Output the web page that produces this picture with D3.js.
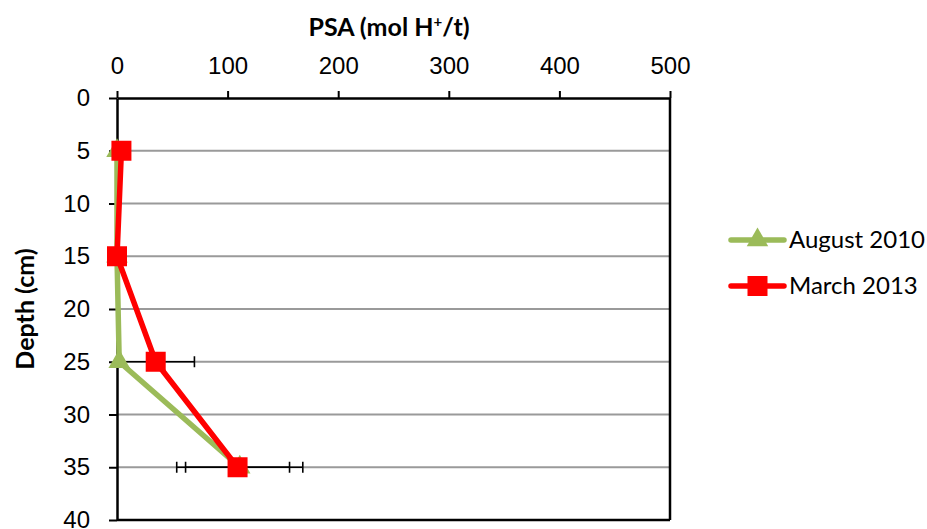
<!DOCTYPE html>
<html>
<head>
<meta charset="utf-8">
<script src="https://cdn.jsdelivr.net/npm/d3@7"></script>
<style>
  html, body { margin: 0; padding: 0; background: #fff; }
  svg { display: block; font-family: Lato, "Open Sans", sans-serif; }
</style>
</head>
<body>
<svg id="chart" width="927" height="529"></svg>
<script>
// Depth profile of PSA for two sampling dates
const depths = [5, 15, 25, 35];
const aug2010 = [0, 0, 2, 111];
const aug2010Err = [0, 0, 0, 57];
const mar2013 = [4, 0, 35, 109];
const mar2013Err = [0, 0, 35, 47];
const xTicks = [0, 100, 200, 300, 400, 500];
const yTicks = [0, 5, 10, 15, 20, 25, 30, 35, 40];
const seriesNames = ["August 2010", "March 2013"];

const series = [
  { name: seriesNames[0], values: aug2010, err: aug2010Err, color: "#9bbb59", shape: "triangle" },
  { name: seriesNames[1], values: mar2013, err: mar2013Err, color: "#ff0000", shape: "square" }
];

const svg = d3.select("#chart");
const plotL = 117, plotR = 670, plotT = 98, plotB = 520;

const x = d3.scaleLinear().domain([0, 500]).range([plotL, plotR]);
const y = d3.scaleLinear().domain([0, 40]).range([plotT, plotB]);

// horizontal gridlines
svg.append("g").selectAll("line")
  .data(yTicks.filter(d => d > 0 && d < 40))
  .join("line")
  .attr("x1", plotL).attr("x2", plotR)
  .attr("y1", d => y(d)).attr("y2", d => y(d))
  .attr("stroke", "#9a9a9a").attr("stroke-width", 2);

// plot border (right and bottom)
svg.append("line").attr("x1", plotR).attr("x2", plotR).attr("y1", plotT).attr("y2", plotB)
  .attr("stroke", "#000").attr("stroke-width", 2.5);
svg.append("line").attr("x1", plotL).attr("x2", plotR).attr("y1", plotB).attr("y2", plotB)
  .attr("stroke", "#000").attr("stroke-width", 2.5);

// top axis
const xAxis = svg.append("g").attr("transform", `translate(0,${plotT})`)
  .call(d3.axisTop(x).tickValues(xTicks).tickSizeInner(7).tickSizeOuter(0).tickPadding(17));
xAxis.select(".domain").attr("stroke-width", 2.5);
xAxis.selectAll(".tick line").attr("stroke-width", 2);
xAxis.selectAll("text").attr("font-size", 24).attr("fill", "#000");

// left axis
const yAxis = svg.append("g").attr("transform", `translate(${plotL},0)`)
  .call(d3.axisLeft(y).tickValues(yTicks).tickSizeInner(8).tickSizeOuter(0).tickPadding(19));
yAxis.select(".domain").attr("stroke-width", 2.5);
yAxis.selectAll(".tick line").attr("stroke-width", 2);
yAxis.selectAll("text").attr("font-size", 24).attr("fill", "#000");

// axis titles
const title = svg.append("text").attr("x", 389).attr("y", 36)
  .attr("text-anchor", "middle").attr("font-size", 25).attr("font-weight", "bold");
title.append("tspan").text("PSA (mol H");
title.append("tspan").text("+").attr("font-size", 15).attr("dy", -9);
title.append("tspan").text("/t)").attr("dy", 9);

svg.append("text")
  .attr("transform", "translate(34,309) rotate(-90)")
  .attr("text-anchor", "middle").attr("font-size", 25).attr("font-weight", "bold")
  .text("Depth (cm)");

// error bars
const capH = 11;
series.forEach(s => {
  const g = svg.append("g").attr("stroke", "#000").attr("stroke-width", 1.6);
  depths.forEach((d, i) => {
    if (!s.err[i]) return;
    const lo = x(s.values[i] - s.err[i]), hi = x(s.values[i] + s.err[i]), yy = y(d);
    g.append("line").attr("x1", lo).attr("x2", hi).attr("y1", yy).attr("y2", yy);
    [lo, hi].forEach(xx => {
      if (xx < plotL) return;
      g.append("line").attr("x1", xx).attr("x2", xx).attr("y1", yy - capH / 2).attr("y2", yy + capH / 2);
    });
  });
});

const line = d3.line().x(d => x(d[0])).y(d => y(d[1]));
const triangle = d3.symbol().type(d3.symbolTriangle).size(200);

function drawMarker(g, shape, cx, cy, color) {
  if (shape === "square") {
    g.append("rect").attr("x", cx - 10).attr("y", cy - 10).attr("width", 20).attr("height", 20).attr("fill", color);
  } else {
    g.append("path").attr("d", triangle()).attr("transform", `translate(${cx},${cy})`).attr("fill", color);
  }
}

// series lines and markers
series.forEach(s => {
  const pts = depths.map((d, i) => [s.values[i], d]);
  svg.append("path").datum(pts).attr("d", line)
    .attr("fill", "none").attr("stroke", s.color).attr("stroke-width", 5.5)
    .attr("stroke-linejoin", "round");
  const g = svg.append("g");
  pts.forEach(p => drawMarker(g, s.shape, x(p[0]), y(p[1]), s.color));
});

// legend
series.forEach((s, i) => {
  const ly = 240 + i * 46;
  const g = svg.append("g");
  g.append("line").attr("x1", 731).attr("x2", 784).attr("y1", ly).attr("y2", ly)
    .attr("stroke", s.color).attr("stroke-width", 5.5).attr("stroke-linecap", "round");
  drawMarker(g, s.shape, 757.5, ly, s.color);
  g.append("text").attr("x", 789).attr("y", ly + 8).attr("font-size", 24).text(s.name);
});
</script>
</body>
</html>
